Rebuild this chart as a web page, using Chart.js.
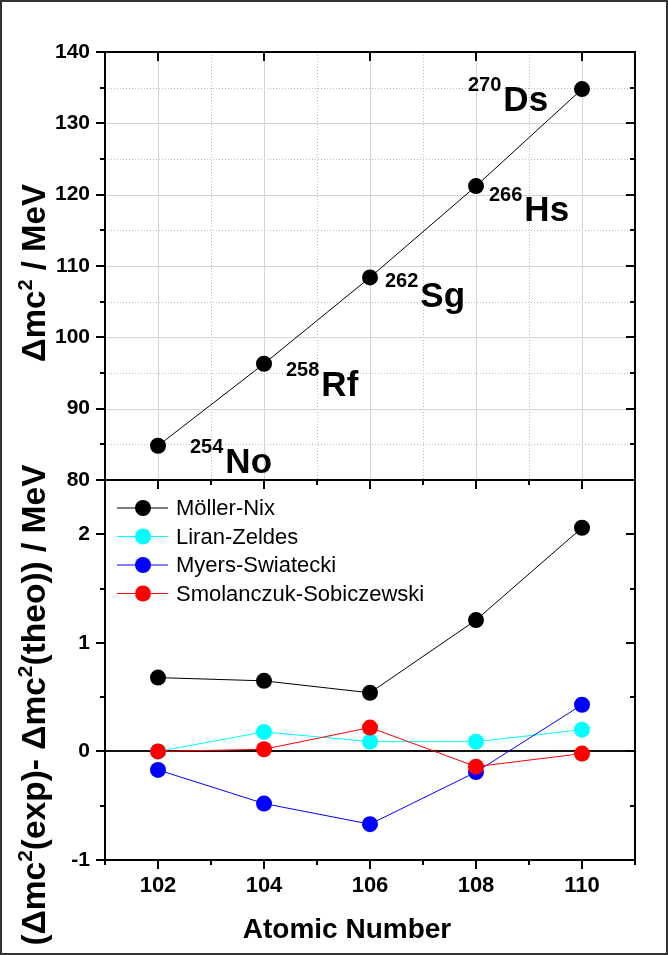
<!DOCTYPE html>
<html>
<head>
<meta charset="utf-8">
<title>Mass excess of even-even superheavy nuclei</title>
<script src="https://cdn.jsdelivr.net/npm/chart.js@4.4.1/dist/chart.umd.min.js"></script>
<style>
  html, body { margin: 0; padding: 0; background: #fff; }
  #wrap { position: relative; width: 668px; height: 955px; background: #fff; }
  #wrap canvas { position: absolute; left: 0; top: 0; }
</style>
</head>
<body>
<div id="wrap">
  <canvas id="lowerChart" width="668" height="955"></canvas>
  <canvas id="upperChart" width="668" height="955"></canvas>
</div>
<script>
// nuclei along the alpha chain, upper panel
const atomicNumber = [102, 104, 106, 108, 110];
const massNumber = ['254', '258', '262', '266', '270'];
const element = ['No', 'Rf', 'Sg', 'Hs', 'Ds'];
const massExcess = [84.8, 96.3, 108.4, 121.2, 134.8];

// experiment minus model, lower panel
const seriesNames = ['Möller-Nix', 'Liran-Zeldes', 'Myers-Swiatecki', 'Smolanczuk-Sobiczewski'];
const mollerNix = [0.68, 0.65, 0.54, 1.21, 2.06];
const liranZeldes = [0.0, 0.18, 0.09, 0.09, 0.20];
const myersSwiatecki = [-0.17, -0.48, -0.67, -0.19, 0.43];
const smolanczukSobiczewski = [0.0, 0.02, 0.22, -0.14, -0.02];

// tick values
const xMajor = [102, 104, 106, 108, 110];
const xMinor = [101, 103, 105, 107, 109, 111];
const topMajor = [80, 90, 100, 110, 120, 130, 140];
const topMinor = [85, 95, 105, 115, 125, 135];
const lowMajor = [-1, 0, 1, 2];
const lowMinor = [-0.5, 0.5, 1.5];

const FONT = '"Liberation Sans", Arial, Helvetica, sans-serif';
Chart.defaults.font.family = FONT;
Chart.defaults.color = '#000';

function seg(ctx, x1, y1, x2, y2) {
    ctx.beginPath();
    ctx.moveTo(x1, y1);
    ctx.lineTo(x2, y2);
    ctx.stroke();
}

// tick marks along a vertical axis at x0 (dir -1 = left, +1 = right)
function yTicks(ctx, scale, x0, vals, len, dir) {
    vals.forEach(v => {
        const y = Math.round(scale.getPixelForValue(v));
        seg(ctx, x0, y, x0 + dir * len, y);
    });
}

// tick marks along a horizontal axis at y0 (dir -1 = up, +1 = down)
function xTicks(ctx, scale, y0, vals, len, dir) {
    vals.forEach(v => {
        const x = Math.round(scale.getPixelForValue(v));
        seg(ctx, x, y0, x, y0 + dir * len);
    });
}

// centred text with superscript runs, drawn at the current origin
function richText(ctx, parts, size) {
    const fontOf = sup => `bold ${sup ? Math.round(size * 0.62) : size}px ${FONT}`;
    const widths = parts.map(([t, sup]) => { ctx.font = fontOf(sup); return ctx.measureText(t).width; });
    let x = -widths.reduce((a, b) => a + b, 0) / 2;
    ctx.textAlign = 'left';
    ctx.textBaseline = 'alphabetic';
    parts.forEach(([t, sup], i) => {
        ctx.font = fontOf(sup);
        ctx.fillText(t, x, sup ? -size * 0.38 : 0);
        x += widths[i];
    });
}

// where each isotope label sits relative to its point
const labelAt = [[32, 27], [22, 32], [15, 30], [13, 35], [-114, 22]];

const upperDecor = {
    id: 'upperDecor',
    beforeDatasetsDraw(chart) {
        const { ctx, chartArea: a, scales: { x, y } } = chart;
        ctx.save();
        ctx.lineWidth = 1;
        ctx.strokeStyle = '#bdbdbd';
        ctx.setLineDash([1, 2]);
        xMinor.filter(v => v > x.min && v < x.max).forEach(v => {
            const px = Math.round(x.getPixelForValue(v)) + 0.5;
            seg(ctx, px, a.top, px, a.bottom);
        });
        topMinor.forEach(v => {
            const py = Math.round(y.getPixelForValue(v)) + 0.5;
            seg(ctx, a.left, py, a.right, py);
        });
        ctx.setLineDash([]);
        ctx.strokeStyle = '#d4d4d4';
        xMajor.forEach(v => {
            const px = Math.round(x.getPixelForValue(v)) + 0.5;
            seg(ctx, px, a.top, px, a.bottom);
        });
        topMajor.filter(v => v > y.min && v < y.max).forEach(v => {
            const py = Math.round(y.getPixelForValue(v)) + 0.5;
            seg(ctx, a.left, py, a.right, py);
        });
        ctx.restore();
    },
    afterDatasetsDraw(chart) {
        const { ctx, chartArea: a, scales: { x, y } } = chart;
        ctx.save();
        ctx.strokeStyle = '#000';
        ctx.lineWidth = 2;
        seg(ctx, a.left, a.top - 1, a.left, a.bottom + 1);
        seg(ctx, a.right, a.top - 1, a.right, a.bottom + 1);
        seg(ctx, a.left - 1, a.top, a.right + 1, a.top);
        seg(ctx, a.left - 1, a.bottom, a.right + 1, a.bottom);

        yTicks(ctx, y, a.left, topMajor, 9, -1);
        yTicks(ctx, y, a.left, topMinor, 5, -1);
        yTicks(ctx, y, a.right, topMajor, 9, -1);
        yTicks(ctx, y, a.right, topMinor, 5, -1);
        xTicks(ctx, x, a.top, xMajor, 9, 1);
        xTicks(ctx, x, a.bottom, xMajor, 9, 1);
        xTicks(ctx, x, a.bottom, xMinor, 5, 1);

        // isotope labels: small mass number, large symbol
        ctx.fillStyle = '#000';
        ctx.textAlign = 'left';
        ctx.textBaseline = 'alphabetic';
        atomicNumber.forEach((z, i) => {
            const sx = x.getPixelForValue(z) + labelAt[i][0];
            const base = y.getPixelForValue(massExcess[i]) + labelAt[i][1];
            ctx.font = `bold 20px ${FONT}`;
            ctx.fillText(massNumber[i], sx, base - 20);
            const w = ctx.measureText(massNumber[i]).width;
            ctx.font = `bold 35px ${FONT}`;
            ctx.fillText(element[i], sx + w + 2, base);
        });
        ctx.restore();
    }
};

const lowerDecor = {
    id: 'lowerDecor',
    beforeDatasetsDraw(chart) {
        const { ctx, chartArea: a, scales: { y } } = chart;
        const y0 = Math.round(y.getPixelForValue(0));
        ctx.save();
        ctx.strokeStyle = '#111';
        ctx.lineWidth = 2;
        seg(ctx, a.left, y0, a.right, y0);
        ctx.restore();
    },
    afterDatasetsDraw(chart) {
        const { ctx, chartArea: a, scales: { x, y } } = chart;
        ctx.save();
        ctx.strokeStyle = '#000';
        ctx.lineWidth = 2;
        seg(ctx, a.left, a.top, a.left, a.bottom + 1);
        seg(ctx, a.right, a.top, a.right, a.bottom + 1);
        seg(ctx, a.left - 1, a.bottom, a.right + 1, a.bottom);

        yTicks(ctx, y, a.left, lowMajor, 9, -1);
        yTicks(ctx, y, a.left, lowMinor, 5, -1);
        yTicks(ctx, y, a.right, lowMajor.filter(v => v > y.min), 9, -1);
        yTicks(ctx, y, a.right, lowMinor, 5, -1);
        xTicks(ctx, x, a.bottom, xMajor, 9, 1);
        xTicks(ctx, x, a.bottom, xMinor, 5, 1);

        // legend in the upper left corner of the panel
        ctx.textAlign = 'left';
        ctx.textBaseline = 'middle';
        chart.data.datasets.forEach((d, i) => {
            const ly = a.top + 28 + i * 28.5;
            ctx.strokeStyle = d.borderColor;
            ctx.lineWidth = 1;
            seg(ctx, 117, ly, 168, ly);
            ctx.fillStyle = d.backgroundColor;
            ctx.beginPath();
            ctx.arc(143, ly, 8, 0, Math.PI * 2);
            ctx.fill();
            ctx.fillStyle = '#000';
            ctx.font = `22px ${FONT}`;
            ctx.fillText(d.label, 176, ly + 1);
        });

        // axis titles
        ctx.fillStyle = '#000';
        ctx.textAlign = 'center';
        ctx.textBaseline = 'alphabetic';
        ctx.font = `bold 28px ${FONT}`;
        ctx.fillText('Atomic Number', 347, 938);

        ctx.save();
        ctx.translate(45, 273);
        ctx.rotate(-Math.PI / 2);
        richText(ctx, [['\u0394mc', 0], ['2', 1], [' / MeV', 0]], 33);
        ctx.restore();

        ctx.save();
        ctx.translate(45, 705);
        ctx.rotate(-Math.PI / 2);
        richText(ctx, [['(\u0394mc', 0], ['2', 1], ['(exp)- \u0394mc', 0], ['2', 1], ['(theo)) / MeV', 0]], 33.5);
        ctx.restore();

        // page frame
        ctx.strokeStyle = '#333';
        ctx.lineWidth = 2;
        ctx.strokeRect(1, 1, 666, 953);
        ctx.restore();
    }
};

const upperChart = new Chart(document.getElementById('upperChart'), {
    type: 'line',
    data: {
        datasets: [{
            label: 'Mass excess',
            data: atomicNumber.map((z, i) => ({ x: z, y: massExcess[i] })),
            borderColor: '#000',
            backgroundColor: '#000',
            borderWidth: 1,
            pointRadius: 8,
            pointHoverRadius: 8,
            pointBorderWidth: 0
        }]
    },
    options: {
        responsive: false,
        animation: false,
        devicePixelRatio: 1,
        layout: { padding: { left: 0, top: 52, right: 33, bottom: 0 } },
        plugins: { legend: { display: false }, tooltip: { enabled: false } },
        scales: {
            x: {
                type: 'linear', min: 101, max: 111,
                grid: { display: false, drawTicks: false },
                border: { display: false },
                ticks: { display: false },
                afterFit: s => { s.height = 475; }
            },
            y: {
                min: 80, max: 140,
                grid: { display: false, drawTicks: false },
                border: { display: false },
                ticks: { padding: 15, font: { size: 21, weight: 'bold' } },
                afterBuildTicks: s => { s.ticks = topMajor.map(v => ({ value: v })); },
                afterFit: s => { s.width = 105; }
            }
        }
    },
    plugins: [upperDecor]
});

const lowerColors = ['#000000', '#00ffff', '#0000ff', '#ff0000'];
const lowerValues = [mollerNix, liranZeldes, myersSwiatecki, smolanczukSobiczewski];

const lowerChart = new Chart(document.getElementById('lowerChart'), {
    type: 'line',
    data: {
        datasets: lowerValues.map((vals, k) => ({
            label: seriesNames[k],
            data: atomicNumber.map((z, i) => ({ x: z, y: vals[i] })),
            borderColor: lowerColors[k],
            backgroundColor: lowerColors[k],
            borderWidth: 1,
            pointRadius: 8,
            pointHoverRadius: 8,
            pointBorderWidth: 0,
            order: 4 - k
        }))
    },
    options: {
        responsive: false,
        animation: false,
        devicePixelRatio: 1,
        layout: { padding: { left: 0, top: 480, right: 33, bottom: 0 } },
        plugins: { legend: { display: false }, tooltip: { enabled: false } },
        scales: {
            x: {
                type: 'linear', min: 101, max: 111,
                grid: { display: false, drawTicks: false },
                border: { display: false },
                ticks: { padding: 13, font: { size: 22, weight: 'bold' } },
                afterBuildTicks: s => { s.ticks = xMajor.map(v => ({ value: v })); },
                afterFit: s => { s.height = 95; }
            },
            y: {
                min: -1, max: 2.5,
                grid: { display: false, drawTicks: false },
                border: { display: false },
                ticks: { padding: 15, font: { size: 21, weight: 'bold' } },
                afterBuildTicks: s => { s.ticks = lowMajor.map(v => ({ value: v })); },
                afterFit: s => { s.width = 105; }
            }
        }
    },
    plugins: [lowerDecor]
});
</script>
</body>
</html>
